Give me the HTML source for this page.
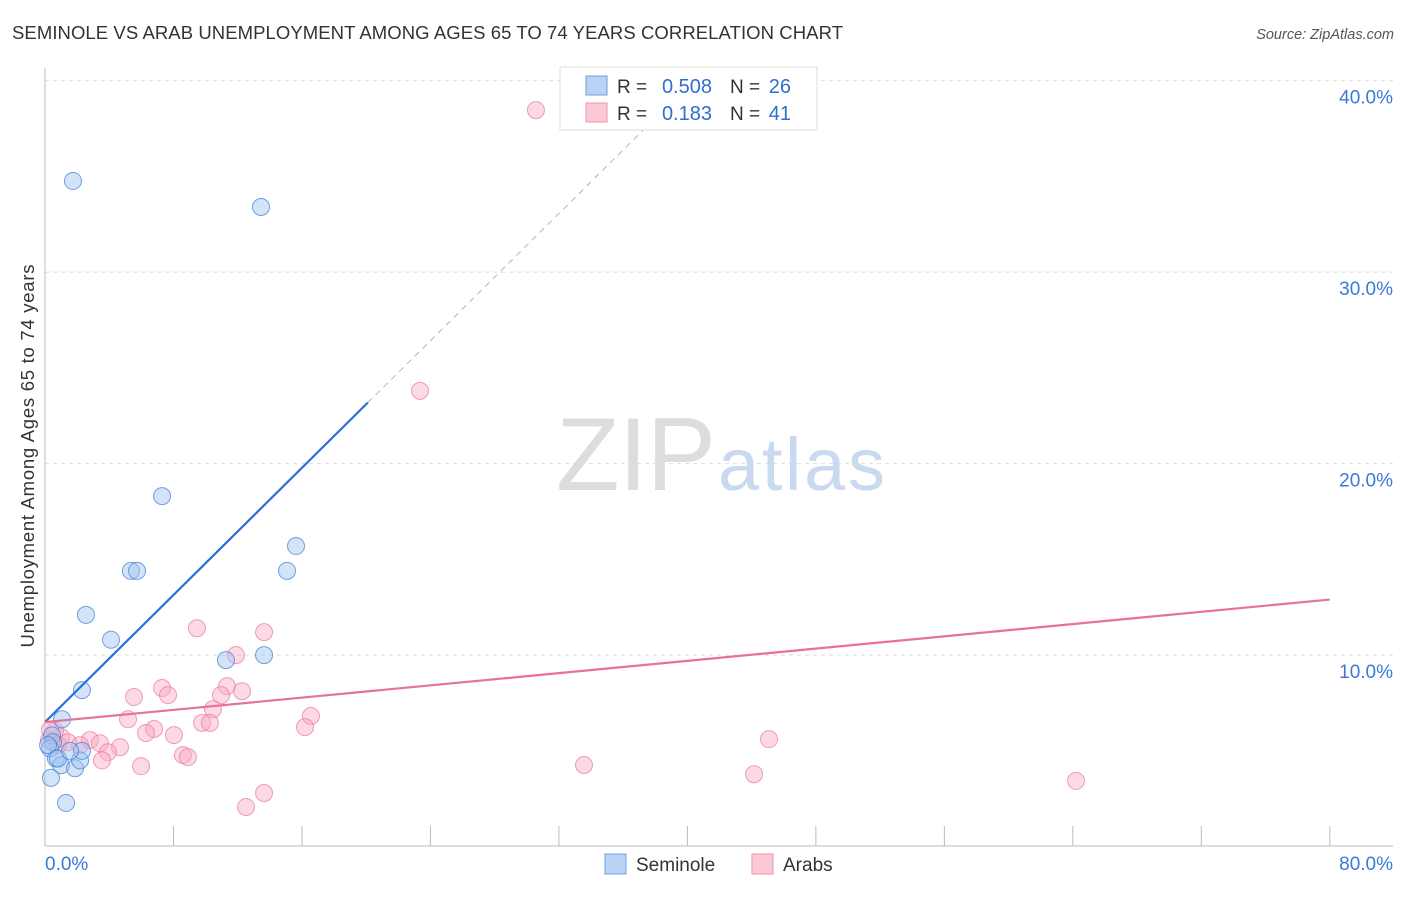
<!DOCTYPE html>
<html><head><meta charset="utf-8"><style>
body{margin:0;background:#fff;font-family:"Liberation Sans",sans-serif;}
svg text{font-family:"Liberation Sans",sans-serif;}
</style></head><body>
<svg width="1406" height="892" xmlns="http://www.w3.org/2000/svg">
<text x="12" y="39" font-size="18.5" fill="#333" textLength="831">SEMINOLE VS ARAB UNEMPLOYMENT AMONG AGES 65 TO 74 YEARS CORRELATION CHART</text>
<text x="1394" y="39" font-size="14.5" fill="#555" text-anchor="end" font-style="italic">Source: ZipAtlas.com</text>
<g id="grid"></g>
<text x="716" y="490" font-size="104" fill="#ddd" text-anchor="end" font-family="Liberation Serif" textLength="160">ZIP</text>
<text x="718" y="490" font-size="74" fill="#c9d9f0" textLength="167">atlas</text>
<g id="points"></g>
<g id="lines"></g>
<text transform="translate(34,456) rotate(-90)" font-size="18.5" fill="#333" text-anchor="middle" textLength="383">Unemployment Among Ages 65 to 74 years</text>
<g>
<rect x="560" y="67" width="257" height="63" fill="#fff" stroke="#ddd"/>
<rect x="586" y="76" width="21" height="19" fill="#b9d3f5" stroke="#6f9fe0"/>
<rect x="586" y="103" width="21" height="19" fill="#fbc8d6" stroke="#ee93ad"/>
<text x="617" y="93" font-size="19" fill="#333">R =</text>
<text x="712" y="93" font-size="20" fill="#2e6fd0" text-anchor="end">0.508</text>
<text x="730" y="93" font-size="19" fill="#333">N =</text>
<text x="791" y="93" font-size="20" fill="#2e6fd0" text-anchor="end">26</text>
<text x="617" y="120" font-size="19" fill="#333">R =</text>
<text x="712" y="120" font-size="20" fill="#2e6fd0" text-anchor="end">0.183</text>
<text x="730" y="120" font-size="19" fill="#333">N =</text>
<text x="791" y="120" font-size="20" fill="#2e6fd0" text-anchor="end">41</text>
</g>
<g>
<rect x="605" y="854" width="21" height="20" fill="#b9d3f5" stroke="#6f9fe0"/>
<text x="636" y="871" font-size="19" fill="#333">Seminole</text>
<rect x="752" y="854" width="21" height="20" fill="#fbc8d6" stroke="#ee93ad"/>
<text x="783" y="871" font-size="19" fill="#333">Arabs</text>
</g>
</svg>
<script>
const yTicks=[10,20,30,40];
const yTickLabels=["10.0%","20.0%","30.0%","40.0%"];
const xTickLabels=["0.0%","80.0%"];
const semX=[1.74,13.45,7.29,5.35,5.73,15.63,15.07,2.55,4.11,11.27,13.64,2.3,1.06,0.44,0.5,0.31,0.68,1.0,1.87,2.18,2.3,0.81,0.37,1.31,0.19,1.56];
const semY=[34.76,33.4,18.3,14.4,14.4,15.7,14.4,12.1,10.8,9.74,10.0,8.17,6.65,5.81,5.45,5.13,4.6,4.25,4.09,4.5,5.0,4.6,3.59,2.28,5.3,5.0];
const arbX=[30.57,23.35,9.46,13.64,11.89,7.29,5.54,7.66,11.33,12.27,10.96,10.46,5.17,16.56,6.79,6.29,8.03,9.78,10.27,16.19,1.0,2.8,3.42,4.67,3.92,3.55,8.59,8.9,5.98,0.62,0.81,2.18,1.43,0.25,33.56,45.08,44.15,64.2,12.52,13.64,0.31];
const arbY=[38.46,23.8,11.4,11.2,10.0,8.28,7.81,7.91,8.38,8.12,7.91,7.18,6.65,6.82,6.14,5.93,5.82,6.46,6.46,6.24,5.72,5.56,5.4,5.19,4.93,4.5,4.78,4.67,4.2,6.04,5.3,5.3,5.45,5.56,4.26,5.61,3.78,3.43,2.07,2.8,6.1];
const semFit=[6.5,0.83];
const arbFit=[6.5,0.08];
const X=v=>45+v*16.06, Y=v=>846.6-v*19.15;
const NS="http://www.w3.org/2000/svg";
function mk(t,a,p){const e=document.createElementNS(NS,t);for(const k in a)e.setAttribute(k,a[k]);p.appendChild(e);return e;}
const g=document.getElementById('grid');
yTicks.forEach((t,i)=>{
 const l=mk('line',{x1:45,x2:1393,y1:Y(t),y2:Y(t),stroke:'#ddd','stroke-dasharray':'4,4'},g);
 
 
 const tx=mk('text',{x:1393,y:Y(t)+23,'font-size':19,fill:'#3b78d8','text-anchor':'end'},g);
 tx.textContent=yTickLabels[i];
 
 
});
const ax=mk('line',{x1:45,x2:1393,y1:846,y2:846,stroke:'#bbb'},g);


const ay=mk('line',{x1:45,x2:45,y1:68,y2:846,stroke:'#bbb'},g);


for(let v=8;v<=80;v+=8){
 const t=mk('line',{x1:X(v),x2:X(v),y1:826,y2:846,stroke:'#bbb'},g);
 
 
}
[[0,'start',45],[80,'end',1393]].forEach((d,i)=>{
 const t=mk('text',{x:d[2],y:870,'font-size':19,fill:'#3b78d8','text-anchor':d[1]},g);
 t.textContent=xTickLabels[i];
 
 
});
const P=document.getElementById('points');
arbX.forEach((x,i)=>{
 const c=mk('circle',{cx:X(x),cy:Y(arbY[i]),r:8.5,fill:'rgba(248,170,195,0.45)',stroke:'rgba(235,120,155,0.7)','stroke-width':1},P);
 
 
});
semX.forEach((x,i)=>{
 const c=mk('circle',{cx:X(x),cy:Y(semY[i]),r:8.5,fill:'rgba(160,195,240,0.45)',stroke:'rgba(70,130,215,0.75)','stroke-width':1},P);
 
 
});
const L=document.getElementById('lines');
const s1=mk('line',{x1:X(0),y1:Y(semFit[0]),x2:X(20.1),y2:Y(semFit[0]+semFit[1]*20.1),stroke:'#2a6fd6','stroke-width':2.2},L);


const s2=mk('line',{x1:X(20.1),y1:Y(semFit[0]+semFit[1]*20.1),x2:X(39),y2:Y(semFit[0]+semFit[1]*39),stroke:'#9bb9e0','stroke-width':1,'stroke-dasharray':'6,5'},L);


const a1=mk('line',{x1:X(0),y1:Y(arbFit[0]),x2:X(80),y2:Y(arbFit[0]+arbFit[1]*80),stroke:'#e8719a','stroke-width':2.2},L);


</script>
</body></html>
